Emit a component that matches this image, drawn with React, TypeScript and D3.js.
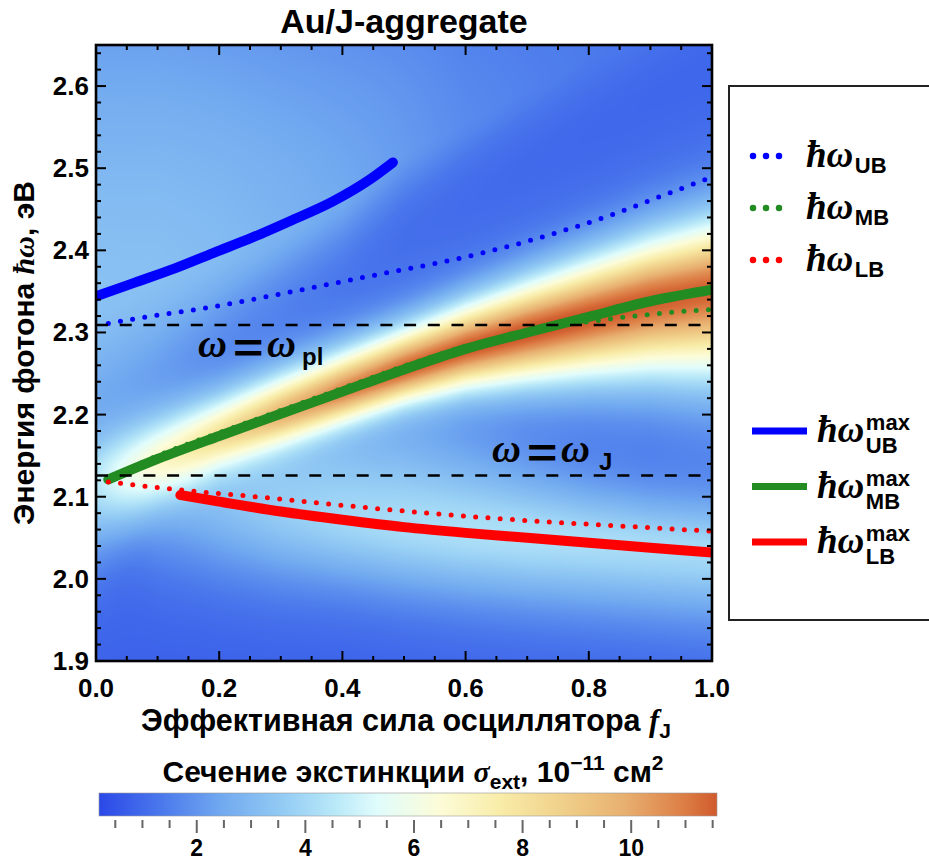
import React, { useMemo } from "react";
import * as d3 from "d3";

const WIDTH = 929;
const HEIGHT = 866;
const PLOT = { left: 96, top: 45, right: 712, bottom: 661 };

const SANS = "'Liberation Sans', Arial, Helvetica, sans-serif";
const SERIF = "'Liberation Serif', 'Times New Roman', serif";

// Axes
const F_RANGE: [number, number] = [0, 1];
const E_RANGE: [number, number] = [1.9, 2.65];
const F_MAJOR = [0, 0.2, 0.4, 0.6, 0.8, 1.0];
const F_MINOR = d3.range(0, 1.0001, 0.05);
const E_MAJOR = [1.9, 2.0, 2.1, 2.2, 2.3, 2.4, 2.5, 2.6];
const E_MINOR = d3.range(1.9, 2.6501, 0.02);

// Reference energies (eV)
const E_PLASMON = 2.309;
const E_EXCITON = 2.126;

// Extinction maxima (solid curves)
const fUBmax = [0, 0.064, 0.128, 0.191, 0.255, 0.319, 0.383, 0.446, 0.482];
const eUBmax = [2.344, 2.361, 2.378, 2.397, 2.416, 2.437, 2.459, 2.487, 2.507];
const fMBmax = [0.02, 0.1, 0.2, 0.3, 0.4, 0.5, 0.6, 0.7, 0.8, 0.9, 1.0];
const eMBmax = [2.121, 2.146, 2.174, 2.201, 2.228, 2.255, 2.28, 2.3, 2.319, 2.338, 2.352];
const fLBmax = [0.137, 0.2, 0.3, 0.4, 0.5, 0.6, 0.7, 0.8, 0.9, 1.0];
const eLBmax = [2.102, 2.094, 2.082, 2.072, 2.063, 2.056, 2.05, 2.044, 2.038, 2.032];

// Hybrid band energies (dotted curves)
const fUB = [0.02, 0.1, 0.18, 0.3, 0.44, 0.6, 0.7, 0.78, 0.84, 0.9, 0.96, 1.0];
const eUB = [2.311, 2.321, 2.33, 2.347, 2.368, 2.392, 2.411, 2.429, 2.444, 2.461, 2.478, 2.489];
const fMB = [0.02, 0.1, 0.2, 0.3, 0.4, 0.5, 0.6, 0.7, 0.76, 0.82, 0.86, 0.9, 0.94, 1.0];
const eMB = [2.122, 2.15, 2.178, 2.205, 2.232, 2.259, 2.283, 2.301, 2.309, 2.315, 2.319, 2.322, 2.325, 2.328];
const fLB = [0.02, 0.14, 0.26, 0.38, 0.54, 0.72, 0.86, 1.0];
const eLB = [2.118, 2.108, 2.1, 2.091, 2.08, 2.07, 2.064, 2.058];

// Extinction map: resonance parameters sampled along f
const fGrid = [0, 0.1, 0.2, 0.3, 0.4, 0.5, 0.6, 0.7, 0.8, 0.9, 1.0];
const ubCentre = [2.344, 2.371, 2.399, 2.431, 2.466, 2.52, 2.56, 2.6, 2.64, 2.68, 2.72];
const ubHeight = [2.6, 2.5, 2.3, 2.0, 1.7, 1.35, 1.0, 0.8, 0.65, 0.55, 0.5];
const ubWidthUp = [0.4, 0.38, 0.35, 0.32, 0.3, 0.28, 0.25, 0.22, 0.2, 0.2, 0.2];
const ubWidthDown = [0.15, 0.11, 0.08, 0.065, 0.055, 0.05, 0.05, 0.05, 0.05, 0.05, 0.05];
const mbCentre = [2.118, 2.146, 2.174, 2.201, 2.228, 2.255, 2.28, 2.3, 2.319, 2.338, 2.352];
const mbHeight = [3.2, 4.6, 6.3, 8.0, 9.5, 10.4, 10.8, 11.0, 11.0, 10.9, 10.8];
const mbWidthUp = [0.05, 0.045, 0.042, 0.041, 0.041, 0.042, 0.046, 0.052, 0.058, 0.064, 0.07];
const mbWidthDown = [0.07, 0.044, 0.034, 0.032, 0.032, 0.034, 0.041, 0.05, 0.06, 0.072, 0.085];
const lbCentre = [2.12, 2.108, 2.094, 2.082, 2.072, 2.063, 2.056, 2.05, 2.044, 2.038, 2.032];
const lbHeight = [0, 1.5, 2.2, 2.8, 3.2, 3.4, 3.5, 3.5, 3.4, 3.3, 3.2];
const lbWidthUp = [0.05, 0.07, 0.085, 0.1, 0.1, 0.1, 0.085, 0.07, 0.06, 0.055, 0.055];
const lbWidthDown = [0.06, 0.08, 0.08, 0.075, 0.07, 0.07, 0.07, 0.07, 0.07, 0.07, 0.07];
const BACKGROUND = 0.6;
const LORENTZ_SHARE = { ub: 0.6, mb: 0.35, lb: 0.5 };

// Colour bar (σ_ext, 1e-11 cm²)
const CB_RANGE: [number, number] = [0.2, 11.58];
const CB_STOPS = [0, 0.1, 0.2, 0.3, 0.38, 0.45, 0.55, 0.65, 0.75, 0.85, 0.95, 1];
const CB_COLORS = ["#2b48e8", "#4a78ec", "#72aaf0", "#94ccf4", "#b8e8f8", "#e0fcfc", "#fcfcd8", "#f8eca8", "#f0d08a", "#e8b070", "#dc7c44", "#d05a2c"];
const CB_MAJOR = [2, 4, 6, 8, 10];
const CB_TICKS = d3.range(0.5, 11.501, 0.5);

const x = d3.scaleLinear().domain(F_RANGE).range([PLOT.left, PLOT.right]);
const y = d3.scaleLinear().domain(E_RANGE).range([PLOT.bottom, PLOT.top]);
const cbX = d3.scaleLinear().domain(CB_RANGE).range([99, 717]);
const colour = d3
  .scaleLinear<string>()
  .domain(CB_STOPS.map((s) => CB_RANGE[0] + s * (CB_RANGE[1] - CB_RANGE[0])))
  .range(CB_COLORS)
  .interpolate(d3.interpolateRgb)
  .clamp(true);

const curve = d3
  .line<[number, number]>()
  .x((d) => x(d[0]))
  .y((d) => y(d[1]))
  .curve(d3.curveMonotoneX);

const pts = (f: number[], e: number[]) => d3.zip(f, e) as [number, number][];

function profile(E: number, c: number, h: number, wu: number, wd: number, eta: number) {
  if (h <= 0) return 0;
  const u = (E - c) / (E > c ? wu : wd);
  const u2 = u * u;
  return h * (eta / (1 + u2) + (1 - eta) * Math.pow(2, -u2));
}

function useExtinctionImage() {
  return useMemo(() => {
    const w = PLOT.right - PLOT.left;
    const h = PLOT.bottom - PLOT.top;
    const canvas = document.createElement("canvas");
    canvas.width = w;
    canvas.height = h;
    const ctx = canvas.getContext("2d");
    if (!ctx) return "";
    const img = ctx.createImageData(w, h);
    const at = (arr: number[]) => d3.scaleLinear().domain(fGrid).range(arr).clamp(true);
    const s = {
      ubC: at(ubCentre), ubH: at(ubHeight), ubU: at(ubWidthUp), ubD: at(ubWidthDown),
      mbC: at(mbCentre), mbH: at(mbHeight), mbU: at(mbWidthUp), mbD: at(mbWidthDown),
      lbC: at(lbCentre), lbH: at(lbHeight), lbU: at(lbWidthUp), lbD: at(lbWidthDown),
    };
    const N = 1024;
    const lut = d3.range(N).map((i) => d3.rgb(colour(CB_RANGE[0] + (i / (N - 1)) * (CB_RANGE[1] - CB_RANGE[0]))));
    for (let px = 0; px < w; px++) {
      const f = x.invert(PLOT.left + px + 0.5);
      const ub = [s.ubC(f), s.ubH(f), s.ubU(f), s.ubD(f)];
      const mb = [s.mbC(f), s.mbH(f), s.mbU(f), s.mbD(f)];
      const lb = [s.lbC(f), s.lbH(f), s.lbU(f), s.lbD(f)];
      for (let py = 0; py < h; py++) {
        const E = y.invert(PLOT.top + py + 0.5);
        const v =
          BACKGROUND +
          profile(E, ub[0], ub[1], ub[2], ub[3], LORENTZ_SHARE.ub) +
          profile(E, mb[0], mb[1], mb[2], mb[3], LORENTZ_SHARE.mb) +
          profile(E, lb[0], lb[1], lb[2], lb[3], LORENTZ_SHARE.lb);
        const t = Math.max(0, Math.min(1, (v - CB_RANGE[0]) / (CB_RANGE[1] - CB_RANGE[0])));
        const c = lut[Math.round(t * (N - 1))];
        const k = (py * w + px) * 4;
        img.data[k] = c.r;
        img.data[k + 1] = c.g;
        img.data[k + 2] = c.b;
        img.data[k + 3] = 255;
      }
    }
    ctx.putImageData(img, 0, 0);
    return canvas.toDataURL();
  }, []);
}

const isMajor = (v: number, majors: number[]) => majors.some((m) => Math.abs(m - v) < 1e-6);

function HbarOmega({ x0, y0, size, sub, sup, subSize }: { x0: number; y0: number; size: number; sub: string; sup?: string; subSize: number }) {
  const after = x0 + size * 1.32;
  return (
    <g>
      <text x={x0} y={y0} fontFamily={SERIF} fontStyle="italic" fontWeight="bold" fontSize={size}>
        ħω
      </text>
      {sup ? (
        <>
          <text x={after} y={y0 - 12} fontFamily={SANS} fontWeight="bold" fontSize={subSize}>{sup}</text>
          <text x={after} y={y0 + 11} fontFamily={SANS} fontWeight="bold" fontSize={subSize}>{sub}</text>
        </>
      ) : (
        <text x={after} y={y0 + 6} fontFamily={SANS} fontWeight="bold" fontSize={subSize}>{sub}</text>
      )}
    </g>
  );
}

function OmegaEq({ x0, y0, sub, subDx }: { x0: number; y0: number; sub: string; subDx: number }) {
  return (
    <g>
      <text x={x0} y={y0} fontFamily={SERIF} fontStyle="italic" fontWeight="bold" fontSize={40}>ω</text>
      <text transform={`translate(${x0 + 35},${y0 + 5}) scale(1.3,1)`} fontFamily={SANS} fontWeight="bold" fontSize={40}>=</text>
      <text x={x0 + 69} y={y0} fontFamily={SERIF} fontStyle="italic" fontWeight="bold" fontSize={40}>ω</text>
      <text x={x0 + subDx} y={y0 + 8} fontFamily={SANS} fontWeight="bold" fontSize={24}>{sub}</text>
    </g>
  );
}

export default function App() {
  const href = useExtinctionImage();
  const bands = [
    { id: "UB", colour: "#0000ff", dots: pts(fUB, eUB), max: pts(fUBmax, eUBmax) },
    { id: "MB", colour: "#228b22", dots: pts(fMB, eMB), max: pts(fMBmax, eMBmax) },
    { id: "LB", colour: "#ff0000", dots: pts(fLB, eLB), max: pts(fLBmax, eLBmax) },
  ];
  const fmt = d3.format(".1f");

  return (
    <svg width={WIDTH} height={HEIGHT} viewBox={`0 0 ${WIDTH} ${HEIGHT}`} style={{ display: "block", position: "absolute", left: 0, top: 0, background: "#fff" }}>
      <defs>
        <clipPath id="plot-area">
          <rect x={PLOT.left} y={PLOT.top} width={PLOT.right - PLOT.left} height={PLOT.bottom - PLOT.top} />
        </clipPath>
        <linearGradient id="cb-grad" x1="0" x2="1" y1="0" y2="0">
          {CB_STOPS.map((s, i) => (
            <stop key={i} offset={s} stopColor={CB_COLORS[i]} />
          ))}
        </linearGradient>
      </defs>

      <text x={404} y={33} textAnchor="middle" fontFamily={SANS} fontWeight="bold" fontSize={34}>
        Au/J-aggregate
      </text>

      {href && (
        <image href={href} x={PLOT.left} y={PLOT.top} width={PLOT.right - PLOT.left} height={PLOT.bottom - PLOT.top} preserveAspectRatio="none" />
      )}

      <g clipPath="url(#plot-area)">
        {bands.map((b) => (
          <path key={b.id + "max"} d={curve(b.max) ?? ""} fill="none" stroke={b.colour} strokeWidth={10} strokeLinecap="round" strokeLinejoin="round" />
        ))}
        {bands.map((b) => (
          <path key={b.id + "dots"} d={curve(b.dots) ?? ""} fill="none" stroke={b.colour} strokeWidth={5} strokeLinecap="round" strokeDasharray="0 12.3" />
        ))}
        {[E_PLASMON, E_EXCITON].map((e) => (
          <line key={e} x1={PLOT.left} x2={PLOT.right} y1={y(e)} y2={y(e)} stroke="#000" strokeWidth={2.5} strokeDasharray="12 11.7" />
        ))}
      </g>

      <OmegaEq x0={198} y0={357} sub="pl" subDx={104} />
      <OmegaEq x0={492} y0={462} sub="J" subDx={107} />

      {/* Frame and ticks */}
      <g stroke="#000" strokeWidth={2}>
        {F_MINOR.map((f) => {
          const len = isMajor(f, F_MAJOR) ? 10 : 5;
          return (
            <g key={"f" + f}>
              <line x1={x(f)} x2={x(f)} y1={PLOT.bottom} y2={PLOT.bottom - len} />
              <line x1={x(f)} x2={x(f)} y1={PLOT.top} y2={PLOT.top + len} />
            </g>
          );
        })}
        {E_MINOR.map((e) => {
          const len = isMajor(e, E_MAJOR) ? 10 : 5;
          return (
            <g key={"e" + e}>
              <line x1={PLOT.left} x2={PLOT.left + len} y1={y(e)} y2={y(e)} />
              <line x1={PLOT.right} x2={PLOT.right - len} y1={y(e)} y2={y(e)} />
            </g>
          );
        })}
      </g>
      <rect x={PLOT.left} y={PLOT.top} width={PLOT.right - PLOT.left} height={PLOT.bottom - PLOT.top} fill="none" stroke="#000" strokeWidth={2.6} />

      {F_MAJOR.map((f) => (
        <text key={f} x={x(f)} y={697} textAnchor="middle" fontFamily={SANS} fontWeight="bold" fontSize={26}>
          {fmt(f)}
        </text>
      ))}
      {E_MAJOR.map((e) => (
        <text key={e} x={89} y={y(e) + 9} textAnchor="end" fontFamily={SANS} fontWeight="bold" fontSize={26}>
          {fmt(e)}
        </text>
      ))}

      <text x={406} y={731} textAnchor="middle" fontFamily={SANS} fontWeight="bold" fontSize={30.5}>
        Эффективная сила осциллятора{" "}
        <tspan fontFamily={SERIF} fontStyle="italic">f</tspan>
        <tspan fontSize={21} dy={7}>J</tspan>
      </text>

      <text transform={`translate(34,${(PLOT.top + PLOT.bottom) / 2}) rotate(-90)`} textAnchor="middle" fontFamily={SANS} fontWeight="bold" fontSize={30}>
        Энергия фотона <tspan fontFamily={SERIF} fontStyle="italic">ħω</tspan>, эВ
      </text>

      {/* Legend */}
      <rect x={729} y={86} width={260} height={534} fill="#fff" stroke="#222" strokeWidth={2} />
      {bands.map((b, i) => {
        const cy = 156 + i * 52;
        return (
          <g key={b.id + "leg1"}>
            <line x1={753} x2={792} y1={cy} y2={cy} stroke={b.colour} strokeWidth={6.5} strokeLinecap="round" strokeDasharray="0 13" />
            <HbarOmega x0={806} y0={cy + 11} size={37} sub={b.id} subSize={22} />
          </g>
        );
      })}
      {bands.map((b, i) => {
        const cy = 431 + i * 55.5;
        return (
          <g key={b.id + "leg2"}>
            <line x1={752} x2={807} y1={cy} y2={cy} stroke={b.colour} strokeWidth={7} />
            <HbarOmega x0={817} y0={cy + 11} size={37} sub={b.id} sup="max" subSize={22} />
          </g>
        );
      })}

      {/* Colour bar */}
      <text x={413} y={782} textAnchor="middle" fontFamily={SANS} fontWeight="bold" fontSize={30}>
        Сечение экстинкции{" "}
        <tspan fontFamily={SERIF} fontStyle="italic">σ</tspan>
        <tspan fontSize={21} dy={7}>ext</tspan>
        <tspan dy={-7}>, 10</tspan>
        <tspan fontSize={21} dy={-12}>−11</tspan>
        <tspan dy={12}> см</tspan>
        <tspan fontSize={21} dy={-12}>2</tspan>
      </text>
      <rect x={cbX(CB_RANGE[0])} y={793} width={cbX(CB_RANGE[1]) - cbX(CB_RANGE[0])} height={23} fill="url(#cb-grad)" stroke="#999" strokeWidth={0.6} />
      <g stroke="#666" strokeWidth={2}>
        {CB_TICKS.map((v) => (
          <line key={v} x1={cbX(v)} x2={cbX(v)} y1={820} y2={isMajor(v, CB_MAJOR) ? 833 : 828} />
        ))}
      </g>
      {CB_MAJOR.map((v) => (
        <text key={v} x={cbX(v)} y={856} textAnchor="middle" fontFamily={SANS} fontWeight="bold" fontSize={23}>
          {v}
        </text>
      ))}
    </svg>
  );
}
